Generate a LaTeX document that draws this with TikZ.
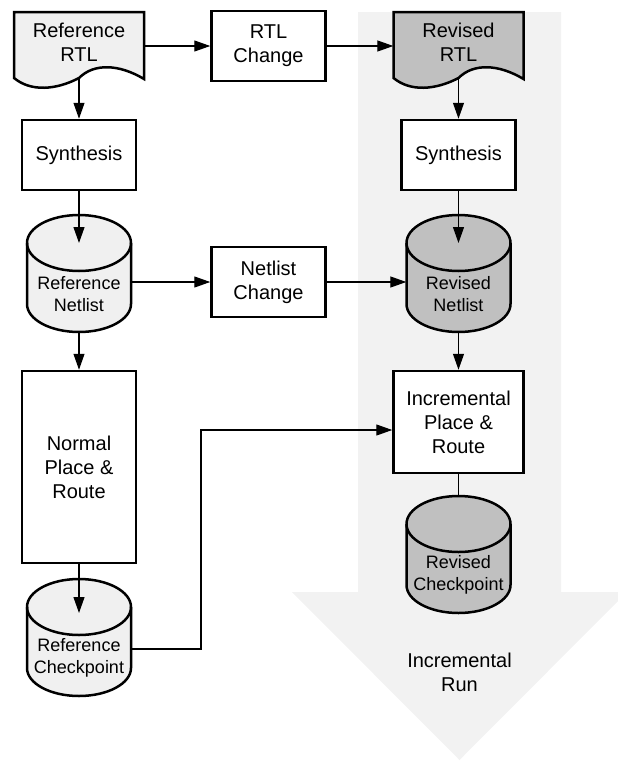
\documentclass[tikz,border=0pt]{standalone}
\usepackage{fontspec}
\setmainfont{Liberation Sans}
\usetikzlibrary{arrows.meta}

\definecolor{refgray}{RGB}{240,240,240}
\definecolor{revgray}{RGB}{192,192,192}
\definecolor{rungray}{RGB}{242,242,242}

% database drum: name, x, y of the top ellipse centre, fill, text
\newcommand{\drum}[5]{%
  \filldraw[outline, fill=#4] (#2-52,#3) -- (#2-52,#3-61)
    arc[start angle=180, end angle=360, x radius=52, y radius=28]
    -- (#2+52,#3) arc[start angle=0, end angle=180, x radius=52, y radius=28]
    -- cycle;
  \draw[outline] (#2-52,#3) arc[start angle=180, end angle=360, x radius=52,
    y radius=28];
  \coordinate (#1-top) at (#2,#3+28);
  \coordinate (#1-cap) at (#2,#3);
  \coordinate (#1-base) at (#2,#3-89);
  \node[drumtext] (#1) at (#2,#3-51) {#5};
}

% document sheet with a wavy foot: name, left x, fill, text
\newcommand{\sheet}[4]{%
  \filldraw[outline, fill=#3] (#2,-12) -- (#2+130,-12) -- (#2+130,-79)
    .. controls (#2+105,-64) and (#2+80,-63) .. (#2+65,-78)
    .. controls (#2+42,-90) and (#2+17,-92) .. (#2,-78) -- cycle;
  \coordinate (#1-foot) at (#2+65,-79);
  \node[sheettext] (#1) at (#2+65,-42) {#4};
}

\begin{document}
\begin{tikzpicture}[x = 1pt, y = 1pt,
  outline/.style = {line width = 2.5pt},
  box/.style = {draw, line width = 2.5pt, fill = white, minimum width = 114pt,
    minimum height = 70pt, inner sep = 0pt, align = center,
    font = \fontsize{20}{24}\selectfont},
  sheettext/.style = {minimum width = 130pt, inner sep = 0pt, align = center,
    font = \fontsize{20}{24}\selectfont},
  drumtext/.style = {minimum width = 104pt, inner sep = 0pt, align = center,
    font = \fontsize{18}{21.5}\selectfont},
  wire/.style = {line width = 1.2pt},
  arr/.style = {wire, -{Triangle[length = 16pt, width = 11pt]}}]

  \useasboundingbox (0, 0) rectangle (618, -761);

  % incremental run arrow in the back
  \fill[rungray] (358, -12) -- (561, -12) -- (561, -592) -- (627, -592) --
  (459.5, -760) -- (292, -592) -- (358, -592) -- cycle;
  \node[font = \fontsize{20}{24}\selectfont, align = center] (run) at
  (459.5, -672) {Incremental\\Run};

  % reference flow
  \sheet{refrtl}{14}{refgray}{Reference\\RTL}
  \node[box] (refsyn) at (79, -155) {Synthesis};
  \drum{refnet}{79}{-243}{refgray}{Reference\\Netlist}
  \node[box, minimum height = 192pt] (normpr) at (79, -467)
  {Normal\\Place \&\\Route};
  \drum{refchk}{79}{-607}{refgray}{Reference\\Checkpoint}

  % changes
  \node[box] (rtlchg) at (268.5, -46) {RTL\\Change};
  \node[box] (netchg) at (268.5, -282) {Netlist\\Change};

  % revised flow
  \sheet{revrtl}{393.5}{revgray}{Revised\\RTL}
  \node[box] (revsyn) at (458.5, -155) {Synthesis};
  \drum{revnet}{458.5}{-243}{revgray}{Revised\\Netlist}
  \node[box, minimum width = 130pt, minimum height = 102pt] (incpr) at
  (458.5, -422) {Incremental\\Place \&\\Route};
  \drum{revchk}{458.5}{-524}{revgray}{Revised\\Checkpoint}

  % connectors
  \draw[arr] (refrtl-foot) -- (refsyn);
  \draw[arr] (refsyn) -- (refnet-cap);
  \draw[arr] (refnet-base) -- (normpr);
  \draw[arr] (normpr) -- ([yshift = -6pt]refchk-cap);
  \draw[arr] (refrtl.east |- rtlchg.west) -- (rtlchg.west);
  \draw[arr] (rtlchg.east) -- (revrtl.west |- rtlchg.east);
  \draw[arr] (refnet.east |- netchg.west) -- (netchg.west);
  \draw[arr] (netchg.east) -- (revnet.west |- netchg.east);
  \draw[arr] (revrtl-foot) -- (revsyn);
  \draw[arr] (revsyn) -- (revnet-cap);
  \draw[arr] (revnet-base) -- (incpr);
  \draw[wire] (incpr) -- (revchk-top);
  \coordinate (bend) at (201, -430);
  \draw[arr] ([yshift = 9pt]refchk.east) -| (bend) --
  ([yshift = -8pt]incpr.west);
\end{tikzpicture}
\end{document}
